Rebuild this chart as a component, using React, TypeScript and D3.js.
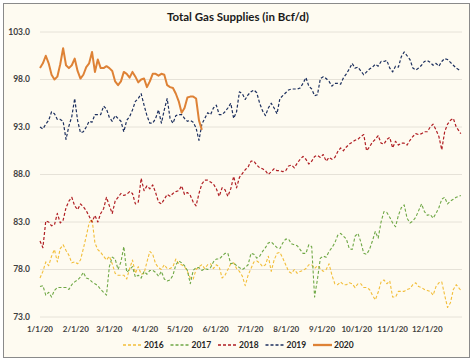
import React from 'react';
import * as d3 from 'd3';

// day-of-year offsets, read every 2.5 days (plus the last day shown)
const daysFull = [...d3.range(0, 361, 2.5), 364];
const days2020 = d3.range(0, 141, 2.5);

const s2016 = [77.1, 77.8, 78.8, 78.4, 79.4, 80.1, 78.8, 80.2, 80.6, 80.0,
  79.5, 78.7, 78.8, 78.6, 79.0, 80.2, 81.5, 82.9, 83.3, 80.8,
  80.1, 79.8, 79.4, 79.0, 79.4, 78.6, 77.6, 77.4, 77.4, 77.4,
  77.0, 78.1, 79.0, 77.6, 78.3, 77.5, 77.6, 78.8, 79.9, 79.6,
  78.6, 78.2, 78.0, 78.5, 78.1, 78.1, 78.3, 79.1, 78.6, 78.5,
  78.3, 77.8, 77.1, 77.0, 78.0, 78.3, 78.5, 78.1, 78.5, 78.6,
  78.1, 78.5, 78.3, 77.1, 77.4, 78.0, 78.6, 78.7, 78.1, 77.8,
  77.3, 76.3, 77.4, 78.1, 78.8, 78.9, 78.7, 78.3, 78.5, 79.4,
  77.8, 79.0, 79.7, 79.8, 79.2, 78.5, 77.8, 77.6, 78.0, 77.6,
  77.8, 77.9, 78.1, 78.5, 78.5, 78.1, 78.4, 78.1, 77.8, 78.0,
  78.6, 77.4, 76.5, 76.4, 76.7, 76.4, 76.4, 76.6, 76.5, 76.1,
  76.5, 76.5, 76.1, 76.1, 75.9, 75.3, 74.8, 75.6, 76.7, 76.9,
  76.5, 76.8, 75.1, 75.1, 75.7, 75.7, 75.7, 75.9, 76.0, 76.4,
  76.6, 76.2, 76.1, 75.9, 75.8, 75.7, 75.3, 76.2, 76.6, 76.7,
  75.3, 74.0, 74.5, 75.9, 76.4, 75.8];

const s2017 = [76.2, 76.3, 75.3, 75.6, 75.1, 75.8, 76.1, 76.1, 76.1, 76.1,
  75.9, 76.4, 76.7, 76.9, 77.2, 77.7, 77.1, 77.0, 76.7, 76.5,
  76.3, 75.9, 75.6, 75.3, 78.3, 79.3, 79.1, 78.0, 78.8, 80.4,
  77.7, 78.0, 78.3, 77.2, 77.4, 77.1, 77.8, 77.5, 77.9, 77.9,
  77.7, 77.3, 77.8, 77.0, 76.8, 76.9, 77.4, 78.5, 78.9, 78.7,
  78.4, 77.9, 76.5, 77.9, 78.2, 78.2, 77.9, 78.1, 78.0, 78.2,
  78.8, 79.1, 79.1, 79.4, 79.7, 79.7, 78.6, 78.7, 78.4, 78.2,
  78.0, 78.2, 78.5, 79.7, 79.6, 79.2, 79.4, 79.9, 80.3, 80.8,
  80.9, 80.6, 80.3, 80.2, 80.8, 81.2, 81.2, 80.7, 80.6, 80.5,
  80.1, 79.7, 79.7, 80.6, 80.4, 75.1, 77.0, 79.2, 79.4, 79.3,
  79.9, 80.3, 80.8, 81.6, 81.8, 81.5, 81.2, 80.2, 80.1, 81.5,
  81.8, 80.9, 79.7, 79.6, 80.1, 81.0, 82.0, 81.3, 83.0, 84.1,
  84.0, 83.5, 82.9, 82.5, 83.7, 84.5, 84.8, 83.4, 82.9, 83.1,
  83.5, 84.2, 84.9, 84.1, 83.7, 83.8, 83.4, 83.9, 84.5, 85.4,
  85.6, 84.9, 85.2, 85.4, 85.6, 85.8];

const s2018 = [81.0, 80.3, 83.1, 83.0, 82.6, 82.7, 83.9, 82.9, 83.2, 84.5,
  85.2, 85.6, 84.7, 84.3, 84.9, 84.6, 84.2, 83.6, 83.0, 83.7,
  83.0, 83.9, 84.4, 85.6, 84.7, 83.9, 85.2, 85.6, 86.0, 85.8,
  85.9, 86.2, 86.0, 84.9, 85.1, 87.6, 86.3, 86.8, 86.5, 86.9,
  86.1, 85.1, 84.9, 85.4, 85.9, 85.7, 86.0, 86.2, 86.3, 86.8,
  85.9, 86.1, 85.8, 85.1, 84.7, 86.0, 87.0, 87.4, 87.4, 87.2,
  87.0, 86.5, 85.7, 86.6, 86.4, 85.7, 86.5, 87.8, 86.6, 87.7,
  88.1, 88.5, 88.8, 89.4, 89.4, 89.0, 88.7, 88.6, 88.4, 88.0,
  88.3, 88.6, 88.4, 88.4, 88.3, 88.4, 88.9, 89.0, 88.7, 89.2,
  89.6, 89.9, 89.6, 89.1, 89.4, 89.9, 90.0, 89.8, 90.1, 89.4,
  89.8, 89.6, 89.8, 90.4, 90.8, 90.5, 90.9, 91.2, 91.4, 91.6,
  91.7, 92.0, 92.2, 90.5, 90.9, 91.4, 91.7, 92.1, 91.3, 91.2,
  91.7, 91.9, 90.8, 91.5, 91.1, 91.3, 91.3, 91.1, 91.6, 92.0,
  92.3, 92.2, 92.3, 92.5, 92.5, 93.0, 93.3, 92.7, 92.0, 90.6,
  92.5, 93.3, 93.7, 93.9, 93.0, 92.3];

const s2019 = [93.0, 92.8, 93.3, 93.7, 94.6, 94.4, 93.8, 93.8, 93.6, 91.7,
  93.1, 94.1, 96.0, 93.7, 92.4, 92.5, 93.0, 93.6, 93.5, 94.3,
  94.3, 94.3, 95.2, 94.9, 94.0, 93.6, 94.2, 93.9, 93.6, 92.5,
  93.7, 94.1, 94.8, 95.7, 96.0, 96.5, 95.3, 94.2, 93.4, 93.4,
  93.9, 94.8, 93.4, 94.8, 96.0, 93.9, 93.4, 94.2, 94.3, 94.3,
  93.9, 93.6, 93.7, 93.5, 92.9, 91.6, 93.3, 93.9, 94.5, 94.3,
  95.0, 95.3, 94.3, 94.3, 94.6, 95.0, 95.5, 93.9, 94.6, 96.7,
  96.5, 95.9, 96.4, 96.7, 96.9, 96.6, 95.5, 94.7, 94.2, 95.0,
  95.5, 95.0, 94.4, 96.0, 96.3, 96.6, 96.9, 97.0, 97.0, 97.0,
  97.1, 97.6, 98.2, 97.3, 97.0, 96.3, 96.4, 98.1, 98.3, 98.1,
  97.8, 97.3, 97.6, 97.6, 97.5, 98.2, 98.6, 99.1, 99.7, 99.2,
  99.3, 98.9, 98.5, 98.8, 99.1, 99.3, 99.6, 99.4, 99.9, 99.9,
  100.0, 99.2, 98.8, 99.4, 99.3, 100.4, 100.9, 100.5, 100.1, 99.2,
  99.0, 99.2, 99.5, 99.9, 100.0, 99.8, 99.5, 99.7, 99.4, 99.9,
  100.2, 100.1, 99.8, 99.5, 99.2, 98.9];

const s2020 = [99.2, 99.7, 100.5, 99.7, 98.5, 98.0, 98.3, 99.6, 101.3, 99.5,
  99.2, 99.5, 100.2, 98.9, 98.1, 98.5, 99.3, 99.7, 100.9, 98.8,
  100.1, 99.2, 99.2, 99.4, 99.2, 98.9, 97.8, 97.4, 97.8, 98.8,
  98.6, 98.2, 98.8, 98.3, 97.7, 98.0, 98.1, 97.2, 97.8, 98.6,
  98.6, 98.4, 98.6, 98.5, 97.4, 97.2, 97.1, 96.5, 95.7, 94.5,
  95.0, 96.1, 96.2, 96.2, 96.0, 93.7, 92.7];

const yTicks = [73, 78, 83, 88, 93, 98, 103];
const monthLabels = ['1/1/20', '2/1/20', '3/1/20', '4/1/20', '5/1/20', '6/1/20',
  '7/1/20', '8/1/20', '9/1/20', '10/1/20', '11/1/20', '12/1/20'];

const series = [
  { name: '2016', values: s2016, days: daysFull, color: '#F2BE3A', dash: '3,2', width: 1.1 },
  { name: '2017', values: s2017, days: daysFull, color: '#6FA846', dash: '3,2', width: 1.1 },
  { name: '2018', values: s2018, days: daysFull, color: '#B01E23', dash: '3,2', width: 1.2 },
  { name: '2019', values: s2019, days: daysFull, color: '#1C2F5E', dash: '3,2', width: 1.2 },
  { name: '2020', values: s2020, days: days2020, color: '#DE8236', dash: null, width: 2 },
];

const W = 474;
const H = 362;
const font = 'Lato, "Open Sans", sans-serif';

export default function App() {
  const start = new Date(2020, 0, 1);
  const x = d3.scaleTime()
    .domain([start, new Date(2020, 11, 31)])
    .range([40, 462]);
  const y = d3.scaleLinear().domain([73, 103]).range([317, 32]);

  const dayDate = (d: number) => new Date(start.getTime() + d * 864e5);

  return (
    <svg width={W} height={H} style={{ position: 'absolute', left: 0, top: 0 }}>
      <rect x={0} y={0} width={W} height={H} fill="#fff" />
      <rect x={3.5} y={3.5} width={466} height={354} fill="#FEFBF1" stroke="#8A8A8A" strokeWidth={1} />
      <text x={238} y={21} textAnchor="middle" fontFamily={font} fontWeight="bold"
        fontSize={11.5} fill="#1a1a1a">Total Gas Supplies (in Bcf/d)</text>

      {yTicks.map(t => (
        <g key={t}>
          <line x1={40} x2={462} y1={y(t)} y2={y(t)} stroke="#E6E2D8" strokeWidth={1} />
          <text x={30} y={y(t)} dy="0.35em" textAnchor="end" fontFamily={font}
            fontWeight="bold" fontSize={8.5} fill="#404040">{t.toFixed(1)}</text>
        </g>
      ))}

      {monthLabels.map((m, i) => (
        <text key={m} x={x(new Date(2020, i, 1))} y={332} textAnchor="middle"
          fontFamily={font} fontWeight="bold" fontSize={8} fill="#404040">{m}</text>
      ))}

      {series.map(s => {
        const line = d3.line<number>()
          .x((_, i) => x(dayDate(s.days[i])))
          .y(v => y(v));
        return (
          <path key={s.name} d={line(s.values) || ''} fill="none" stroke={s.color}
            strokeWidth={s.width} strokeDasharray={s.dash || undefined}
            strokeLinejoin="round" />
        );
      })}

      {series.map((s, i) => {
        const lx = 123 + i * 47.5;
        return (
          <g key={s.name}>
            <line x1={lx} x2={lx + 19} y1={345} y2={345} stroke={s.color}
              strokeWidth={s.width + 0.3} strokeDasharray={s.dash || undefined} />
            <text x={lx + 21} y={345} dy="0.35em" fontFamily={font} fontWeight="bold"
              fontSize={8.5} fill="#262626">{s.name}</text>
          </g>
        );
      })}
    </svg>
  );
}
